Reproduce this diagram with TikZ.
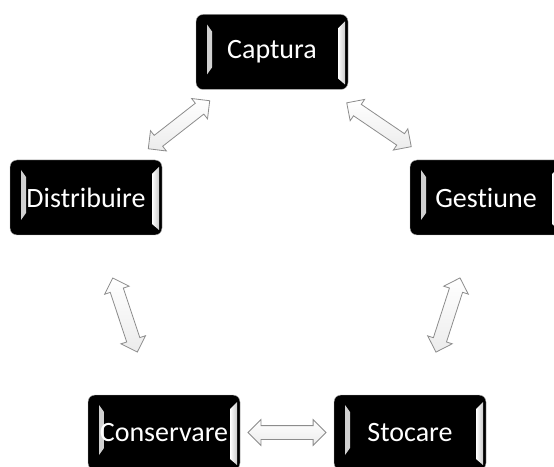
\documentclass[tikz,border=0pt]{standalone}
\usepackage{fontspec}
\setmainfont{Carlito}[Ligatures=NoCommon]
\usepackage{tikz}
\usetikzlibrary{arrows.meta,positioning,shapes,shapes.arrows,calc}
\definecolor{edgegray}{HTML}{8C8C8C}

\begin{document}
\begin{tikzpicture}[x=1pt, y=1pt,
  every node/.style={font=\fontsize{28}{32}\selectfont},
  keybox/.style={rectangle, rounded corners=7pt, fill=black, draw=gray!60, text=white,
    minimum width=152pt, minimum height=75pt, inner sep=0pt,
    path picture={
      \shade[sharp corners, left color=gray!40, right color=white]
        ([shift={(11,-10)}]path picture bounding box.north west) -- ([shift={(16,-17)}]path picture bounding box.north west)
        -- ([shift={(16,22)}]path picture bounding box.south west) -- ([shift={(11,15)}]path picture bounding box.south west) -- cycle;
      \shade[sharp corners, left color=white, right color=gray!40]
        ([shift={(-10,-14)}]path picture bounding box.north east) -- ([shift={(-3,-7)}]path picture bounding box.north east)
        -- ([shift={(-3,5)}]path picture bounding box.south east) -- ([shift={(-10,11)}]path picture bounding box.south east) -- cycle;
    }},
  dblarrow/.style={double arrow, draw=edgegray, line width=0.8pt, top color=white, bottom color=gray!15,
    minimum height=78pt, inner sep=6.5pt, double arrow head extend=6pt, anchor=center}]
\clip (0,0) rectangle (554,466);
% the five stages
\node[keybox] (cap)  at (272,414)  {Captura};
\node[keybox] (dist) at (86,268.5) {Distribuire};
\node[keybox] (gest) at (486,268.5) {Gestiune};
\node[keybox] (cons) at (164,33.5) {Conservare};
\node[keybox] (stoc) at (410,33.5) {Stocare};
% two-way links
\foreach \a/\b in {dist/cap, cap/gest, dist/cons, gest/stoc, cons/stoc}
  \path (\a) -- (\b) node[dblarrow, midway, sloped] {};
\end{tikzpicture}
\end{document}
